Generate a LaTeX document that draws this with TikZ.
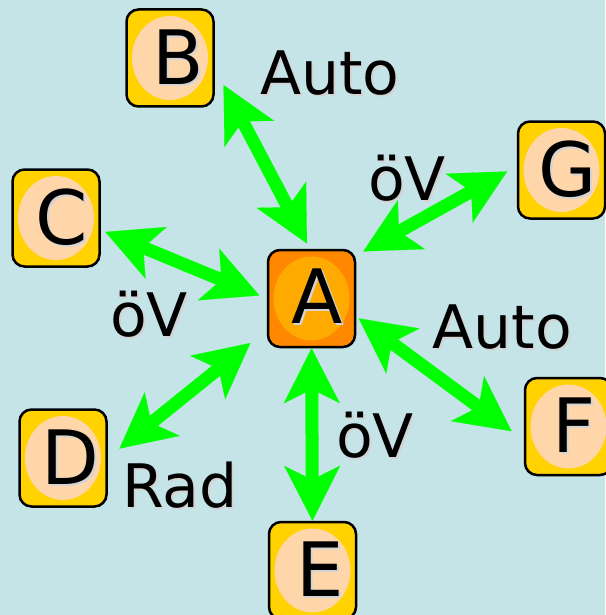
\documentclass[tikz,border=0pt]{standalone}
\usepackage{fontspec}
\setmainfont{DejaVu Sans}
\usetikzlibrary{arrows.meta}

\definecolor{bgblue}{RGB}{197,228,232}
\definecolor{boxgold}{RGB}{255,210,0}
\definecolor{boxpeach}{RGB}{255,213,170}
\definecolor{homeorange}{RGB}{255,136,0}
\definecolor{homeamber}{RGB}{255,170,0}
\definecolor{arrowgreen}{RGB}{0,255,0}
\definecolor{shadowgray}{RGB}{212,212,212}

\newcommand{\shadowtext}[1]{\makebox[0pt][l]{\kern2pt\raisebox{-2pt}{\textcolor{shadowgray}{#1}}}#1}

\tikzset{
  placebox/.style 2 args={draw=black, line width=2.5pt, rounded corners=12pt, minimum width=87pt, minimum height=97pt, inner sep=0pt, fill=#1,
    font=\fontsize{75}{75}\selectfont,
    path picture={\fill[#2] (path picture bounding box.center) ellipse [x radius=38pt, y radius=42pt];}},
  modelabel/.style={font=\fontsize{60}{60}\selectfont, inner sep=0pt},
  twoway/.style={arrowgreen, line width=13pt, >={Stealth[length=55pt, width=56pt, inset=14pt, line width=0.1pt]}, <->},
}

\begin{document}
\begin{tikzpicture}[x=1pt, y=-1pt]
\fill[bgblue] (0,0) rectangle (605,615);
\useasboundingbox (0,0) rectangle (605,615);

\node[placebox={homeorange}{homeamber}] (A) at (311.5,298.5) {\kern12pt\raisebox{5pt}{\shadowtext{A}}};
\node[placebox={boxgold}{boxpeach}] (B) at (170,58) {\kern16pt\shadowtext{B}};
\node[placebox={boxgold}{boxpeach}] (C) at (56,218) {\kern12pt\shadowtext{C}};
\node[placebox={boxgold}{boxpeach}] (D) at (63,458) {\kern14pt\shadowtext{D}};
\node[placebox={boxgold}{boxpeach}] (E) at (312.5,570.5) {\kern16pt\shadowtext{E}};
\node[placebox={boxgold}{boxpeach}] (F) at (568.5,426.5) {\kern12pt\shadowtext{F}};
\node[placebox={boxgold}{boxpeach}] (G) at (561.5,170) {\kern12pt\shadowtext{G}};

\node[modelabel] (autoB) at (330,74.5) {\shadowtext{Auto}};
\node[modelabel] (ovG) at (407,179.5) {\shadowtext{öV}};
\node[modelabel] (ovC) at (149,315.5) {\shadowtext{öV}};
\node[modelabel] (autoF) at (502.5,328.5) {\shadowtext{Auto}};
\node[modelabel] (ovE) at (375,436) {\shadowtext{öV}};
\node[modelabel] (radD) at (180,486) {\shadowtext{Rad}};

\draw[twoway, shorten <=6pt, shorten >=19pt] (A.92) -- (B.-13);
\draw[twoway, shorten <=8pt, shorten >=5pt] (A.180) -- (C.-15);
\draw[twoway, shorten <=21pt, shorten >=15pt] (A.215) -- (D.0);
\draw[twoway] (A.south) -- (E.north);
\draw[twoway, shorten <=3pt, shorten >=15pt] (A.-22) -- (F.197);
\draw[twoway, shorten <=8pt, shorten >=11pt] (A.44) -- (G.175);
\end{tikzpicture}
\end{document}
